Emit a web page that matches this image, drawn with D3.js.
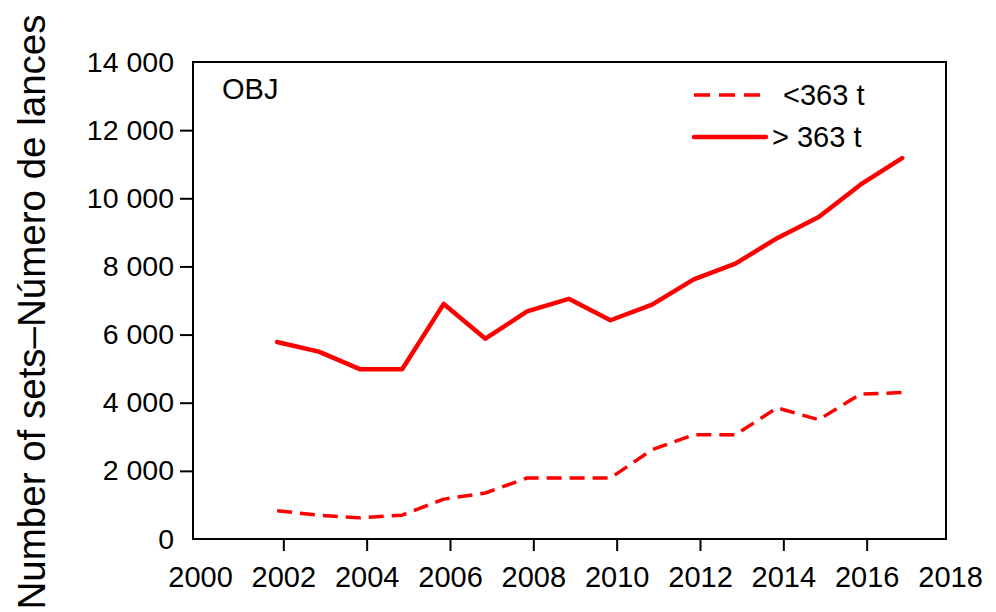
<!DOCTYPE html>
<html>
<head>
<meta charset="utf-8">
<script src="https://cdn.jsdelivr.net/npm/d3@7"></script>
<style>
  html, body { margin: 0; padding: 0; background: #fff; }
  svg { display: block; }
  text { font-family: "Liberation Sans", Arial, sans-serif; fill: #000; }
</style>
</head>
<body>
<svg id="chart" width="996" height="612"></svg>
<script>
// ---- data ----
const years = [2002, 2003, 2004, 2005, 2006, 2007, 2008, 2009, 2010, 2011, 2012, 2013, 2014, 2015, 2016, 2017];
const small = [830, 700, 620, 700, 1170, 1350, 1790, 1790, 1790, 2620, 3060, 3060, 3850, 3500, 4250, 4300];   // <363 t
const large = [5780, 5500, 4980, 4980, 6900, 5880, 6680, 7050, 6420, 6880, 7620, 8080, 8830, 9450, 10400, 11180]; // > 363 t
const xTickLabels = [2000, 2002, 2004, 2006, 2008, 2010, 2012, 2014, 2016, 2018];
const yTickValues = [0, 2000, 4000, 6000, 8000, 10000, 12000, 14000];
const seriesNames = ["<363 t", "> 363 t"];
const panelLabel = "OBJ";
const yTitle = "Number of sets\u2013Número de lances";

// ---- layout ----
const frame = { left: 193, right: 946, top: 62, bottom: 539 };
const pointShift = -0.15; // points sit slightly left of the year ticks in the original
const red = "#ff0000";
const font = "Liberation Sans, Arial, sans-serif";

const svg = d3.select("#chart");

const x = d3.scaleLinear().domain([2000, 2018]).range([200, 950]);
const y = d3.scaleLinear().domain([0, 14000]).range([frame.bottom, frame.top]);

const fmt = v => d3.format(",")(v).replace(/,/g, " ");

// frame
svg.append("rect")
  .attr("x", frame.left).attr("y", frame.top)
  .attr("width", frame.right - frame.left).attr("height", frame.bottom - frame.top)
  .attr("fill", "none").attr("stroke", "#000").attr("stroke-width", 2);

// y axis
const yAxis = svg.append("g")
  .attr("transform", `translate(${frame.left},0)`)
  .call(d3.axisLeft(y).tickValues(yTickValues).tickSize(13).tickPadding(6).tickFormat(fmt));
yAxis.select(".domain").remove();
yAxis.selectAll(".tick line").attr("stroke", "#000").attr("stroke-width", 2);
yAxis.selectAll(".tick").filter(d => d === 0 || d === 14000).select("line").remove();
yAxis.selectAll(".tick text").attr("font-size", 28.5).attr("font-family", font).attr("fill", "#000");

// x axis
const xAxis = svg.append("g")
  .attr("transform", `translate(0,${frame.bottom})`)
  .call(d3.axisBottom(x).tickValues(xTickLabels).tickSize(12).tickPadding(15).tickFormat(d3.format("d")));
xAxis.select(".domain").remove();
xAxis.selectAll(".tick line").attr("stroke", "#000").attr("stroke-width", 2);
xAxis.selectAll(".tick").filter(d => d === 2000 || d === 2018).select("line").remove();
xAxis.selectAll(".tick text").attr("font-size", 29).attr("font-family", font).attr("fill", "#000");

// y title
svg.append("text")
  .attr("transform", `translate(45,${(10 + 614) / 2}) rotate(-90)`)
  .attr("text-anchor", "middle")
  .attr("font-size", 38.5)
  .text(yTitle);

// panel label
svg.append("text")
  .attr("x", 222).attr("y", 99)
  .attr("font-size", 29)
  .text(panelLabel);

// lines
const line = vals => d3.line()
  .x((d, i) => x(years[i] + pointShift))
  .y(d => y(d))(vals);

svg.append("path")
  .attr("d", line(small))
  .attr("fill", "none").attr("stroke", red).attr("stroke-width", 3.5)
  .attr("stroke-dasharray", "15,8").attr("stroke-linejoin", "round");

svg.append("path")
  .attr("d", line(large))
  .attr("fill", "none").attr("stroke", red).attr("stroke-width", 4.5)
  .attr("stroke-linejoin", "round").attr("stroke-linecap", "round");

// legend
const leg = svg.append("g");
leg.append("line").attr("x1", 694).attr("x2", 765).attr("y1", 95).attr("y2", 95)
  .attr("stroke", red).attr("stroke-width", 3.5).attr("stroke-dasharray", "16,9");
leg.append("text").attr("x", 783).attr("y", 105).attr("font-size", 29).text(seriesNames[0]);
leg.append("line").attr("x1", 694).attr("x2", 766).attr("y1", 137).attr("y2", 137)
  .attr("stroke", red).attr("stroke-width", 4.5).attr("stroke-linecap", "round");
leg.append("text").attr("x", 772).attr("y", 147).attr("font-size", 29).text(seriesNames[1]);
</script>
</body>
</html>
